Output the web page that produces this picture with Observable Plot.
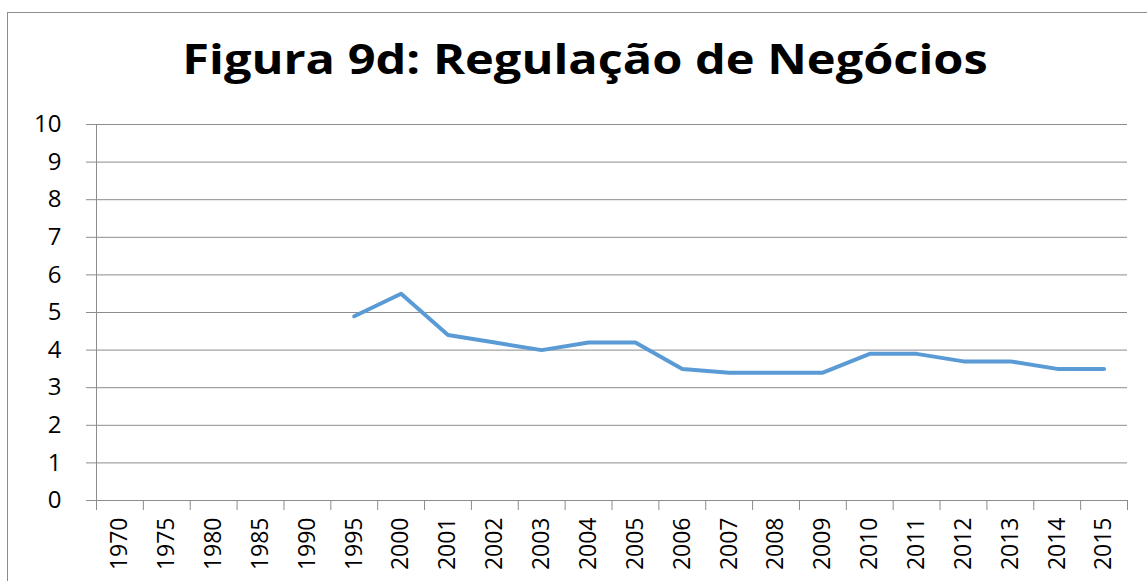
<!DOCTYPE html>
<html>
<head>
<meta charset="utf-8">
<script src="https://cdn.jsdelivr.net/npm/d3@7"></script>
<script src="https://cdn.jsdelivr.net/npm/@observablehq/plot@0.6"></script>
<style>
  html, body { margin: 0; padding: 0; width: 1147px; height: 581px; overflow: hidden; background: #fff; }
  #frame { position: absolute; left: 7px; top: 12px; width: 1300px; height: 700px; border: 1px solid #8c8c8c; box-sizing: border-box; }
  #title { position: absolute; left: 0; top: 29px; width: 1170px; text-align: center; font-family: "Open Sans", sans-serif; font-weight: bold; font-size: 42px; line-height: normal; color: #000; transform: scaleX(1.16); transform-origin: 585px 0; }
  #chart { position: absolute; left: 0; top: 0; }
</style>
</head>
<body>
<div id="frame"></div>
<div id="chart"></div>
<div id="title">Figura 9d: Regulação de Negócios</div>
<script>
const years = ["1970","1975","1980","1985","1990","1995","2000","2001","2002","2003","2004","2005","2006","2007","2008","2009","2010","2011","2012","2013","2014","2015"];
const values = [null,null,null,null,null,4.9,5.5,4.4,4.2,4.0,4.2,4.2,3.5,3.4,3.4,3.4,3.9,3.9,3.7,3.7,3.5,3.5];
const yTicks = [0,1,2,3,4,5,6,7,8,9,10];

const data = years.map((year, i) => ({year, i, pos: i + 0.5, value: values[i]}));
const centers = data.map(d => d.pos);
const bounds = d3.range(years.length + 1);
const gray = "#8c8c8c";

const chart = Plot.plot({
  width: 1147,
  height: 581,
  marginTop: 124,
  marginBottom: 81,
  marginLeft: 96,
  marginRight: 20,
  style: { fontFamily: "'Open Sans', sans-serif", fontSize: "24px", color: "#000", background: "transparent", overflow: "visible" },
  x: { type: "linear", domain: [0, years.length] },
  y: { domain: [0, 10] },
  marks: [
    Plot.gridY(yTicks, { stroke: gray, strokeOpacity: 1, strokeWidth: 1 }),
    Plot.axisY(yTicks, { tickSize: 10, tickPadding: 25, stroke: gray, strokeOpacity: 1, fill: "#000", label: null, tickFormat: d => String(d) }),
    Plot.ruleX([0], { stroke: gray, strokeWidth: 1 }),
    Plot.axisX(bounds, { tickSize: 10, tickFormat: () => "", stroke: gray, strokeOpacity: 1, label: null }),
    Plot.axisX(centers, { tickSize: 0, tickPadding: 17, tickRotate: -90, tickFormat: d => years[Math.floor(d)], fill: "#000", label: null, fontSize: 23 }),
    Plot.line(data, { x: "pos", y: "value", stroke: "#5b9bd5", strokeWidth: 4, curve: "linear" })
  ]
});
document.getElementById("chart").append(chart);
</script>
</body>
</html>
